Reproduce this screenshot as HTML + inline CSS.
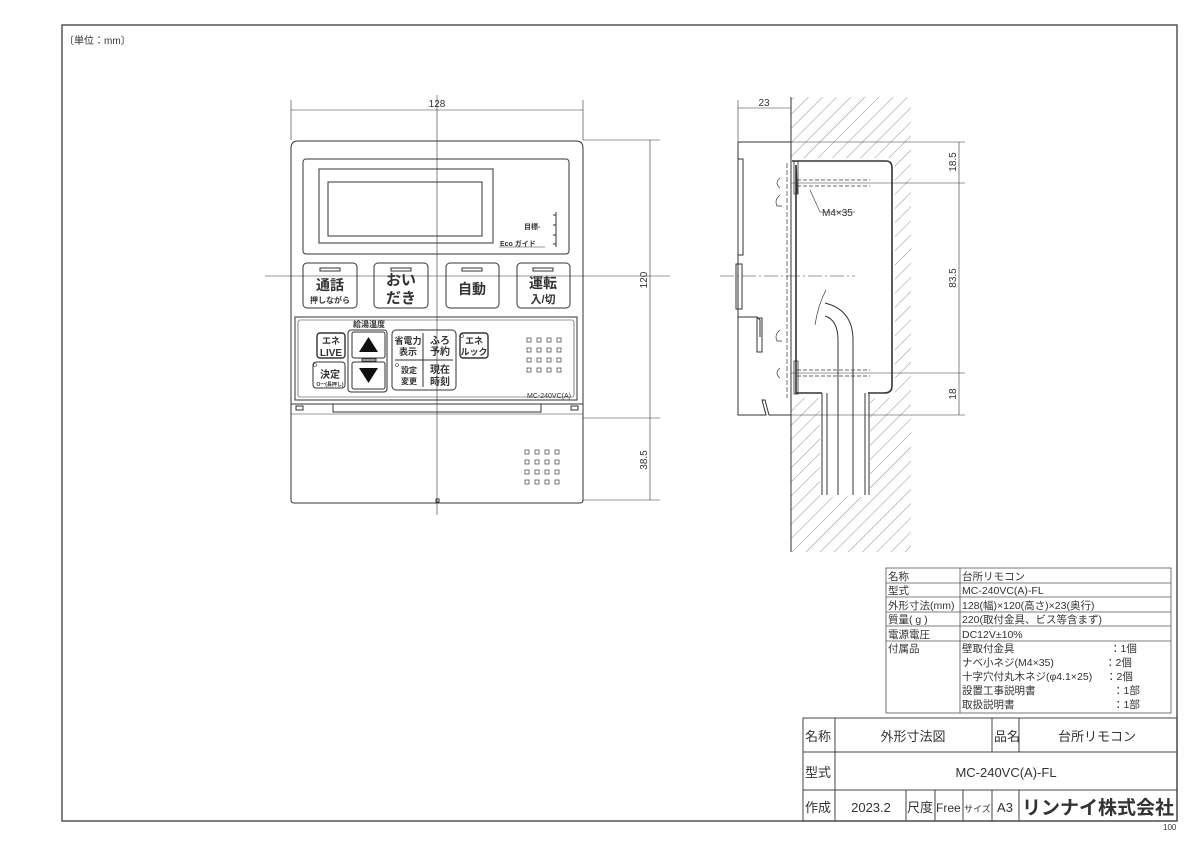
<!DOCTYPE html>
<html><head><meta charset="utf-8"><style>
html,body{margin:0;padding:0;background:#fff}
svg{display:block}
text{font-family:"Liberation Sans","Noto Sans CJK JP",sans-serif;fill:#333}
</style></head><body>
<svg width="1200" height="848" viewBox="0 0 1200 848" xmlns="http://www.w3.org/2000/svg">
<defs>
<pattern id="h" width="10" height="10" patternUnits="userSpaceOnUse" patternTransform="rotate(45)">
<line x1="0" y1="0" x2="0" y2="10" stroke="#777" stroke-width="0.8"/>
</pattern>
</defs>
<g fill="none" stroke="#444" stroke-width="1">
<rect x="62" y="25" width="1115" height="796" stroke="#555" stroke-width="1.5"/>
</g>
<text x="64" y="44" font-size="10" fill="#666">〔単位：mm〕</text>
<text x="1163" y="830" font-size="8" fill="#888">100</text>

<!-- FRONT VIEW -->
<g fill="none" stroke="#333" stroke-width="1">
<line x1="291" y1="100" x2="291" y2="140" stroke-width="0.6"/>
<line x1="583" y1="100" x2="583" y2="140" stroke-width="0.6"/>
<line x1="291" y1="110" x2="583" y2="110" stroke-width="0.6"/>
<line x1="583" y1="140" x2="660" y2="140" stroke-width="0.6"/>
<line x1="583" y1="418" x2="660" y2="418" stroke-width="0.6"/>
<line x1="583" y1="500" x2="660" y2="500" stroke-width="0.6"/>
<line x1="650" y1="140" x2="650" y2="500" stroke-width="0.6"/>
<line x1="437" y1="95" x2="437" y2="515" stroke-width="0.6"/>
<line x1="265" y1="276" x2="670" y2="276" stroke-width="0.6"/>
<path d="M291,148 Q291,141 298,141 L576,141 Q583,141 583,148 L583,500 Q583,503 580,503 L294,503 Q291,503 291,500 Z"/>
<rect x="303" y="159" width="266" height="95" rx="3"/>
<rect x="319" y="169" width="174" height="74"/>
<rect x="328" y="182" width="154" height="54"/>
<line x1="556" y1="212" x2="556" y2="247"/>
<line x1="553" y1="215" x2="556" y2="215"/><line x1="553" y1="225" x2="556" y2="225"/><line x1="553" y1="235" x2="556" y2="235"/><line x1="553" y1="244" x2="556" y2="244"/>
<line x1="499" y1="247" x2="545" y2="247" stroke-width="0.6"/>
<rect x="303" y="263" width="54" height="45" rx="4"/>
<rect x="374" y="263" width="54" height="45" rx="4"/>
<rect x="446" y="263" width="53" height="45" rx="4"/>
<rect x="517" y="263" width="53" height="45" rx="4"/>
<rect x="320" y="268" width="20" height="3"/>
<rect x="391" y="268" width="20" height="3"/>
<rect x="462" y="268" width="20" height="3"/>
<rect x="533" y="268" width="20" height="3"/>
<rect x="295" y="317" width="282" height="83"/>
<rect x="298" y="320" width="276" height="77" rx="2" stroke-width="0.6"/>
<rect x="317" y="333" width="28" height="25" rx="3" stroke-width="1.4"/>
<rect x="313" y="362" width="32" height="26" rx="3"/>
<rect x="348" y="330" width="39" height="62" rx="3"/>
<rect x="352" y="332" width="33" height="26" rx="2"/>
<rect x="352" y="362" width="33" height="27" rx="2"/>
<rect x="362" y="359" width="14" height="2"/>
<rect x="392" y="330" width="64" height="60" rx="4"/>
<line x1="423" y1="333" x2="423" y2="387"/>
<line x1="395" y1="360" x2="453" y2="360"/>
<rect x="460" y="333" width="28" height="25" rx="3" stroke-width="1.4"/>
<circle cx="462" cy="336" r="1.5" stroke-width="0.6"/>
<circle cx="397" cy="365" r="1.5" stroke-width="0.6"/>
<circle cx="315" cy="365" r="1.5" stroke-width="0.6"/>
<line x1="291" y1="404" x2="583" y2="404"/>
<path d="M333,404 L333,412 L541,412 L541,404"/>
<rect x="296" y="406" width="7" height="4"/>
<rect x="571" y="406" width="7" height="4"/>
<line x1="291" y1="414" x2="583" y2="414" stroke-width="0.6"/>
<rect x="436" y="499" width="3" height="3"/>
</g>
<g fill="none" stroke="#555" stroke-width="0.8">
<g id="gr">
<rect x="527" y="338" width="4" height="4"/><rect x="537" y="338" width="4" height="4"/><rect x="547" y="338" width="4" height="4"/><rect x="557" y="338" width="4" height="4"/>
<rect x="527" y="348" width="4" height="4"/><rect x="537" y="348" width="4" height="4"/><rect x="547" y="348" width="4" height="4"/><rect x="557" y="348" width="4" height="4"/>
<rect x="527" y="358" width="4" height="4"/><rect x="537" y="358" width="4" height="4"/><rect x="547" y="358" width="4" height="4"/><rect x="557" y="358" width="4" height="4"/>
<rect x="527" y="368" width="4" height="4"/><rect x="537" y="368" width="4" height="4"/><rect x="547" y="368" width="4" height="4"/><rect x="557" y="368" width="4" height="4"/>
</g>
<use href="#gr" x="-2" y="112"/>
</g>
<polygon points="368.5,337 359,352 378,352" fill="#111"/>
<polygon points="359,368 378,368 368.5,383" fill="#111"/>
<g font-weight="bold" fill="#111">
<text x="330" y="290" font-size="14" text-anchor="middle" fill="#111">通話</text>
<text x="330" y="303" font-size="8" text-anchor="middle" fill="#111">押しながら</text>
<text x="401" y="285" font-size="15" text-anchor="middle" fill="#111">おい</text>
<text x="401" y="303" font-size="15" text-anchor="middle" fill="#111">だき</text>
<text x="472" y="294" font-size="14" text-anchor="middle" fill="#111">自動</text>
<text x="543" y="288" font-size="14" text-anchor="middle" fill="#111">運転</text>
<text x="543" y="303" font-size="11" text-anchor="middle" fill="#111">入/切</text>
<text x="369" y="327" font-size="8" text-anchor="middle" fill="#111">給湯温度</text>
<text x="331" y="344" font-size="9" text-anchor="middle" fill="#111">エネ</text>
<text x="331" y="356" font-size="10" text-anchor="middle" fill="#111">LIVE</text>
<text x="330" y="378" font-size="10" text-anchor="middle" fill="#111">決定</text>
<text x="330" y="386" font-size="5" text-anchor="middle" fill="#111">O━(長押し)</text>
<text x="408" y="344" font-size="9" text-anchor="middle" fill="#111">省電力</text>
<text x="408" y="355" font-size="9" text-anchor="middle" fill="#111">表示</text>
<text x="440" y="344" font-size="10" text-anchor="middle" fill="#111">ふろ</text>
<text x="440" y="355" font-size="10" text-anchor="middle" fill="#111">予約</text>
<text x="409" y="373" font-size="8" text-anchor="middle" fill="#111">設定</text>
<text x="409" y="384" font-size="8" text-anchor="middle" fill="#111">変更</text>
<text x="440" y="373" font-size="10" text-anchor="middle" fill="#111">現在</text>
<text x="440" y="385" font-size="10" text-anchor="middle" fill="#111">時刻</text>
<text x="474" y="344" font-size="9" text-anchor="middle" fill="#111">エネ</text>
<text x="474" y="355" font-size="9" text-anchor="middle" fill="#111">ルック</text>
<text x="524" y="229" font-size="7" fill="#111">目標-</text>
<text x="500" y="246" font-size="7" fill="#111">Eco ガイド</text>
</g>
<text x="527" y="398" font-size="7" fill="#444">MC-240VC(A)</text>
<text x="437" y="107" font-size="10" text-anchor="middle" fill="#555">128</text>
<text transform="translate(647,280) rotate(-90)" font-size="10" text-anchor="middle" fill="#555">120</text>
<text transform="translate(647,460) rotate(-90)" font-size="10" text-anchor="middle" fill="#555">38.5</text>

<!-- SIDE VIEW -->
<rect x="791" y="97" width="120" height="455" fill="url(#h)"/>
<path d="M791,158 L886,158 Q895,158 895,167 L895,390 Q895,398 886,398 L870,398 L870,497 L820,497 L820,398 L791,398 Z" fill="#fff"/>
<g fill="none" stroke="#333" stroke-width="1">
<line x1="791" y1="97" x2="791" y2="552"/>
<line x1="738" y1="100" x2="738" y2="142" stroke-width="0.6"/>
<line x1="738" y1="108" x2="791" y2="108" stroke-width="0.6"/>
<line x1="791" y1="142" x2="965" y2="142" stroke-width="0.6"/>
<line x1="791" y1="183" x2="965" y2="183" stroke-width="0.6"/>
<line x1="791" y1="373" x2="965" y2="373" stroke-width="0.6"/>
<line x1="791" y1="415" x2="965" y2="415" stroke-width="0.6"/>
<line x1="959" y1="142" x2="959" y2="415" stroke-width="0.6"/>
<line x1="720" y1="276" x2="855" y2="276" stroke-width="0.6" stroke-dasharray="14,3,2,3"/>
<path d="M738,142 L791,142 M738,142 L738,415 L766,415 L762,400 L765,400 L769,415 L791,415"/>
<rect x="738" y="159" width="5" height="96"/>
<rect x="736" y="264" width="6" height="45"/>
<path d="M738,317 L757,317 L760,320 L760,337"/>
<rect x="757" y="318" width="5" height="34"/>
<path d="M792,161 L886,161 Q892,161 892,168 L892,386 Q892,393 884,393 L868,393 M822,393 L796,393 L796,165 M796,165 L797,194" stroke-width="1.6"/>
<rect x="794" y="161" width="4" height="33" stroke-width="0.8"/>
<rect x="794" y="361" width="4" height="33" stroke-width="0.8"/>
<line x1="787" y1="163" x2="787" y2="398" stroke-dasharray="5,2" stroke-width="0.7"/>
<g stroke-dasharray="4,2" stroke-width="0.8">
<line x1="797" y1="180" x2="870" y2="180"/><line x1="797" y1="186" x2="870" y2="186"/>
<line x1="797" y1="370" x2="870" y2="370"/><line x1="797" y1="376" x2="870" y2="376"/>
</g>
<path d="M780,178 Q774,183 780,188 M780,195 Q774,200 777,206 L782,206 M780,330 Q774,335 777,341 L782,341 M780,368 Q774,373 780,378" stroke-width="0.7"/>
<line x1="810" y1="190" x2="820" y2="212" stroke-width="0.6"/>
<line x1="820" y1="212" x2="855" y2="212" stroke-width="0.6"/>
<line x1="822" y1="393" x2="822" y2="495"/><line x1="827" y1="393" x2="827" y2="495"/>
<line x1="865" y1="393" x2="865" y2="495"/><line x1="869" y1="393" x2="869" y2="495"/>
<path d="M838,495 L838,340 Q838,320 825,316 M853,495 L853,340 Q853,310 825,303"/>
<path d="M826,290 Q818,305 815,325" stroke-width="0.7"/>
</g>
<text x="822" y="216" font-size="10" fill="#444">M4×35</text>
<text x="764" y="106" font-size="10" text-anchor="middle" fill="#555">23</text>
<text transform="translate(956,162) rotate(-90)" font-size="10" text-anchor="middle" fill="#555">18.5</text>
<text transform="translate(956,278) rotate(-90)" font-size="10" text-anchor="middle" fill="#555">83.5</text>
<text transform="translate(956,394) rotate(-90)" font-size="10" text-anchor="middle" fill="#555">18</text>

<!-- SPEC TABLE -->
<g fill="none" stroke="#555" stroke-width="0.8">
<rect x="886" y="568" width="285" height="145"/>
<line x1="960" y1="568" x2="960" y2="713"/>
<line x1="886" y1="583" x2="1171" y2="583"/>
<line x1="886" y1="597" x2="1171" y2="597"/>
<line x1="886" y1="612" x2="1171" y2="612"/>
<line x1="886" y1="626" x2="1171" y2="626"/>
<line x1="886" y1="641" x2="1171" y2="641"/>
</g>
<g font-size="10.5" fill="#555">
<text x="888" y="580" fill="#555">名称</text>
<text x="888" y="594" fill="#555">型式</text>
<text x="888" y="609" fill="#555">外形寸法(mm)</text>
<text x="888" y="623" fill="#555">質量( g )</text>
<text x="888" y="638" fill="#555">電源電圧</text>
<text x="888" y="652" fill="#555">付属品</text>
<text x="962" y="580" fill="#555">台所リモコン</text>
<text x="962" y="594" fill="#555">MC-240VC(A)-FL</text>
<text x="962" y="609" fill="#555">128(幅)×120(高さ)×23(奥行)</text>
<text x="962" y="623" fill="#555">220(取付金具、ビス等含まず)</text>
<text x="962" y="638" fill="#555">DC12V±10%</text>
<text x="962" y="652" fill="#555">壁取付金具</text>
<text x="962" y="666" fill="#555">ナベ小ネジ(M4×35)</text>
<text x="962" y="680" fill="#555">十字穴付丸木ネジ(φ4.1×25)</text>
<text x="962" y="694" fill="#555">設置工事説明書</text>
<text x="962" y="708" fill="#555">取扱説明書</text>
<text x="1110" y="652" fill="#555">：1個</text>
<text x="1105" y="666" fill="#555">：2個</text>
<text x="1106" y="680" fill="#555">：2個</text>
<text x="1113" y="694" fill="#555">：1部</text>
<text x="1113" y="708" fill="#555">：1部</text>
</g>

<!-- TITLE BLOCK -->
<g fill="none" stroke="#444" stroke-width="1">
<rect x="803" y="718" width="374" height="103"/>
<line x1="803" y1="752" x2="1177" y2="752"/>
<line x1="803" y1="790" x2="1177" y2="790"/>
<line x1="835" y1="718" x2="835" y2="821"/>
<line x1="992" y1="718" x2="992" y2="752"/>
<line x1="1019" y1="718" x2="1019" y2="752"/>
<line x1="906" y1="790" x2="906" y2="821"/>
<line x1="935" y1="790" x2="935" y2="821"/>
<line x1="963" y1="790" x2="963" y2="821"/>
<line x1="992" y1="790" x2="992" y2="821"/>
<line x1="1019" y1="790" x2="1019" y2="821"/>
</g>
<g font-size="13" fill="#333">
<text x="805" y="741" fill="#333">名称</text>
<text x="805" y="777" fill="#333">型式</text>
<text x="805" y="812" fill="#333">作成</text>
<text x="913" y="741" text-anchor="middle" fill="#333">外形寸法図</text>
<text x="994" y="741" fill="#333">品名</text>
<text x="1097" y="741" text-anchor="middle" fill="#333">台所リモコン</text>
<text x="1006" y="777" text-anchor="middle" fill="#333">MC-240VC(A)-FL</text>
<text x="871" y="812" text-anchor="middle" fill="#333">2023.2</text>
<text x="907" y="812" fill="#333">尺度</text>
<text x="936" y="812" font-size="12" fill="#333">Free</text>
<text x="964" y="812" font-size="9" fill="#333">サイズ</text>
<text x="1005" y="812" text-anchor="middle" fill="#333">A3</text>
<text x="1098" y="814" font-size="19" font-weight="bold" text-anchor="middle" fill="#111">リンナイ株式会社</text>
</g>
</svg>
</body></html>
